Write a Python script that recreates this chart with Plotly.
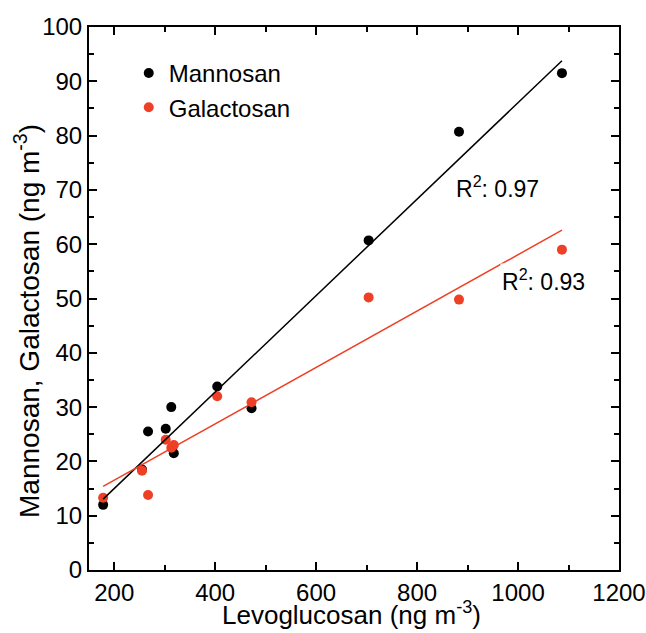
import numpy as np
import plotly.graph_objects as go

levoglucosan = [178, 255, 267, 302, 313, 318, 404, 472, 704, 883, 1087]
mannosan = [12.0, 18.5, 25.5, 26.0, 30.0, 21.5, 33.8, 29.8, 60.7, 80.7, 91.5]
galactosan = [13.3, 18.3, 13.8, 24.0, 22.5, 23.0, 32.0, 30.9, 50.2, 49.8, 59.0]
r2_labels = ["R<sup>2</sup>: 0.97", "R<sup>2</sup>: 0.93"]
x_title = "Levoglucosan (ng m<sup>-3</sup>)"
y_title = "Mannosan, Galactosan (ng m<sup>-3</sup>)"

BLACK = "#000000"
RED = "#EE4027"
FONT = "Liberation Sans, Arial, sans-serif"

x = np.array(levoglucosan, dtype=float)
xl = np.array([x.min(), x.max()])
pm = np.polyfit(x, mannosan, 1)
pg = np.polyfit(x, galactosan, 1)

fig = go.Figure()
fig.add_trace(go.Scatter(x=levoglucosan, y=mannosan, mode="markers", name="Mannosan",
                         marker=dict(color=BLACK, size=10)))
fig.add_trace(go.Scatter(x=levoglucosan, y=galactosan, mode="markers", name="Galactosan",
                         marker=dict(color=RED, size=10)))
fig.add_trace(go.Scatter(x=xl, y=np.polyval(pm, xl), mode="lines", showlegend=False,
                         line=dict(color=BLACK, width=1.5)))
fig.add_trace(go.Scatter(x=xl, y=np.polyval(pg, xl), mode="lines", showlegend=False,
                         line=dict(color=RED, width=1.5)))

fig.add_annotation(x=960, y=70.5, text=r2_labels[0], showarrow=False, bgcolor="white",
                   font=dict(size=23, color="black", family=FONT))
fig.add_annotation(x=1050, y=53.5, text=r2_labels[1], showarrow=False, bgcolor="white",
                   font=dict(size=23, color="black", family=FONT))

# axis titles
fig.add_annotation(xref="paper", yref="paper", x=0.496, y=-0.081, xanchor="center", yanchor="middle",
                   text=x_title, showarrow=False, font=dict(size=26, color="black", family=FONT))
fig.add_annotation(xref="paper", yref="paper", x=-0.117, y=0.4586, xanchor="center", yanchor="middle",
                   text=y_title, textangle=-90, showarrow=False,
                   font=dict(size=28, color="black", family=FONT))

axis_common = dict(showline=True, linecolor="black", linewidth=2, mirror="ticks",
                   ticks="inside", ticklen=8, tickwidth=2, tickcolor="black",
                   showgrid=False, zeroline=False, automargin=False,
                   ticklabeloverflow="allow",
                   tickfont=dict(size=24, color="black", family=FONT))

fig.update_xaxes(range=[150, 1200], tick0=200, dtick=200,
                 minor=dict(ticks="inside", ticklen=5, tickwidth=2, tickcolor="black", dtick=100, tick0=100),
                 **axis_common)
fig.update_yaxes(range=[0, 100], tick0=0, dtick=10,
                 minor=dict(ticks="inside", ticklen=5, tickwidth=2, tickcolor="black", dtick=5),
                 **axis_common)

fig.update_layout(width=646, height=633, plot_bgcolor="white", paper_bgcolor="white",
                  margin=dict(l=89, r=27, t=27, b=63, autoexpand=False),
                  font=dict(family=FONT, color="black"),
                  legend=dict(x=0.075, y=0.956, xanchor="left", yanchor="top",
                              bgcolor="rgba(0,0,0,0)", font=dict(size=24, color="black", family=FONT),
                              itemsizing="trace"))

fig.write_html("out.html", config={"displayModeBar": False},
               post_script="document.body.style.margin='0';document.body.style.overflow='hidden';")
